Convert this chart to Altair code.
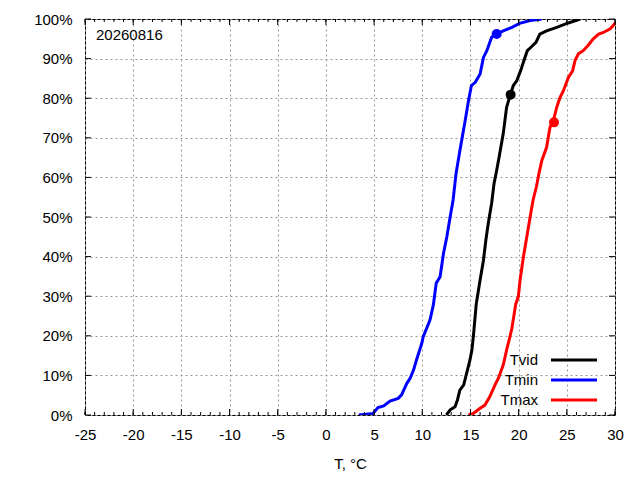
import altair as alt
import pandas as pd

# ---- data ----
series_names = ["Tvid", "Tmin", "Tmax"]
series_colors = ["#000000", "#0000ff", "#ff0000"]

tvid_x = [12.5, 12.9, 13.4, 13.65, 13.9, 14.3, 14.6, 14.95, 15.15, 15.3, 15.6, 16.0, 16.35, 16.6,
          16.85, 17.2, 17.45, 17.7, 18.0, 18.4, 18.75, 19.1, 19.45, 19.8, 20.2, 20.55, 20.9,
          21.25, 21.8, 22.2, 22.9, 23.95, 25.15, 26.4]
tvid_y = [0, 1.3, 2.1, 3.8, 6.3, 7.6, 10.5, 13.9, 16.4, 19.8, 28, 34.1, 39.1, 44.2,
          48.4, 53.5, 58.5, 61.5, 65.5, 71, 77.7, 80.6, 83.2, 84.4, 86.9, 89.5, 92,
          92.8, 94.1, 96.2, 97, 97.9, 99, 100]

tmin_x = [3.4, 4.9, 5.4, 6.0, 6.65, 7.5, 7.85, 8.4, 8.75, 9.1, 9.4, 9.95, 10.1, 10.8, 11.15,
          11.45, 11.85, 12.2, 12.55, 12.9, 13.2, 13.5, 13.9, 14.45, 14.8, 15.1, 15.5, 16.0,
          16.35, 16.7, 17.2, 17.7, 18.4, 19.3, 20.1, 21.2, 22.4]
tmin_y = [0, 0.4, 1.9, 2.3, 3.5, 4.2, 5.1, 8.0, 9.3, 11.4, 13.9, 18.1, 19.8, 24.0, 27.8,
          33.3, 34.9, 40.8, 45, 50.1, 54.3, 60.9, 66.7, 74.3, 79.4, 83.2, 84, 86.1,
          90.3, 92, 95.4, 96.2, 97, 97.9, 98.9, 99.6, 100]

tmax_x = [14.8, 15.3, 16.0, 16.5, 17.0, 17.55, 17.9, 18.4, 18.75, 19.1, 19.3, 19.7, 19.97,
          20.15, 20.5, 20.85, 21.2, 21.5, 21.85, 22.1, 22.4, 22.9, 23.25, 23.6, 23.95, 24.3,
          24.65, 25.15, 25.6, 25.85, 26.2, 26.7, 27.2, 27.75, 28.3, 28.8, 29.5, 30.0, 30.3]
tmax_y = [0, 0.4, 1.7, 2.5, 4.6, 7.6, 9.3, 12.6, 16.4, 19.8, 21.9, 28, 29.9,
          34.1, 40, 45, 50.1, 54.3, 57.7, 60.9, 64.2, 67.6, 72.6, 74.3, 77.7, 80.2,
          81.9, 85.2, 86.9, 89.5, 91.2, 92, 93.3, 95, 96.2, 96.6, 97.5, 98.9, 99.5]

# today's values (dots)
dot_x = [19.17, 17.72, 23.67]
dot_y = [80.9, 96.2, 73.9]

date_label = "20260816"
x_title = "T, °C"
x_ticks = list(range(-25, 31, 5))
x_minor = list(range(-25, 31, 1))
y_ticks = list(range(0, 101, 10))

W, H = 530, 396
FONT = "Liberation Sans"
FS = 15

rows = []
for name, xs_, ys_ in zip(series_names, [tvid_x, tmin_x, tmax_x], [tvid_y, tmin_y, tmax_y]):
    for i, (a, b) in enumerate(zip(xs_, ys_)):
        rows.append({"series": name, "x": a, "y": b, "i": i})
df = pd.DataFrame(rows)
dots = pd.DataFrame({"series": series_names, "x": dot_x, "y": dot_y})

xs = alt.Scale(domain=[-25, 30], nice=False, zero=False)
ys = alt.Scale(domain=[0, 100], nice=False, zero=False)
cs = alt.Scale(domain=series_names, range=series_colors)

GRID = "#999999"
x_axis = alt.Axis(values=x_ticks, tickSize=0, domain=False, labelFontSize=FS, labelPadding=12,
                  labelFont=FONT, labelColor="black", title=x_title, titleFont=FONT,
                  titleFontSize=FS, titleFontWeight="normal", titleColor="black",
                  titlePadding=14, grid=True, gridDash=[2, 3], gridColor=GRID,
                  gridWidth=1, labelFlush=False, labelOverlap=False,
                  labelExpr="'' + datum.value")
y_axis = alt.Axis(values=y_ticks, tickSize=0, domain=False, labelFontSize=FS, labelPadding=13,
                  labelFont=FONT, labelColor="black", title=None, grid=True, gridDash=[2, 3],
                  gridColor=GRID, gridWidth=1, labelExpr="datum.value + '%'",
                  labelFlush=False, labelOverlap=False)

X = lambda f: alt.X(f, scale=xs, axis=x_axis, title=x_title)
Y = lambda f: alt.Y(f, scale=ys, axis=y_axis, title=None)

lines = alt.Chart(df).mark_line(strokeWidth=3, clip=True).encode(
    x=X("x:Q"),
    y=Y("y:Q"),
    color=alt.Color("series:N", scale=cs, legend=None),
    detail="series:N",
    order="i:Q",
)

pts = alt.Chart(dots).mark_circle(size=100, opacity=1).encode(
    x=X("x:Q"),
    y=Y("y:Q"),
    color=alt.Color("series:N", scale=cs, legend=None),
)

# inward ticks
minor_df = pd.DataFrame({"x": x_minor})
major_df = pd.DataFrame({"x": x_ticks})
ytick_df = pd.DataFrame({"y": y_ticks})
tick_layers = []
for y0, y1, d in [(H, H - 3, minor_df), (0, 3, minor_df), (H, H - 6, major_df), (0, 6, major_df)]:
    tick_layers.append(alt.Chart(d).mark_rule(color="black", strokeWidth=1).encode(
        x=X("x:Q"), y=alt.value(y0), y2=alt.value(y1)))
for x0, x1 in [(0, 6), (W, W - 6)]:
    tick_layers.append(alt.Chart(ytick_df).mark_rule(color="black", strokeWidth=1).encode(
        y=Y("y:Q"), x=alt.value(x0), x2=alt.value(x1)))

date_text = alt.Chart(pd.DataFrame({"t": [date_label]})).mark_text(
    align="left", baseline="middle", fontSize=FS, font=FONT, color="black").encode(
    text="t:N", x=alt.value(11), y=alt.value(16))

legend_layers = []
for k, (name, col) in enumerate(zip(series_names, series_colors)):
    ld = pd.DataFrame({"t": [name]})
    ly = 341 + 20 * k
    legend_layers.append(alt.Chart(ld).mark_text(
        align="right", baseline="middle", fontSize=FS, font=FONT, color="black").encode(
        text="t:N", x=alt.value(453), y=alt.value(ly)))
    legend_layers.append(alt.Chart(ld).mark_rule(color=col, strokeWidth=3).encode(
        x=alt.value(466), x2=alt.value(512), y=alt.value(ly)))

chart = alt.layer(lines, pts, *tick_layers, date_text, *legend_layers).properties(
    width=W, height=H,
    autosize=alt.AutoSizeParams(type="none"),
    padding={"left": 77, "top": 11, "right": 9, "bottom": 57},
).configure_view(stroke="black", strokeWidth=1)

chart.save("out.html", embed_options={"renderer": "svg", "actions": False})
